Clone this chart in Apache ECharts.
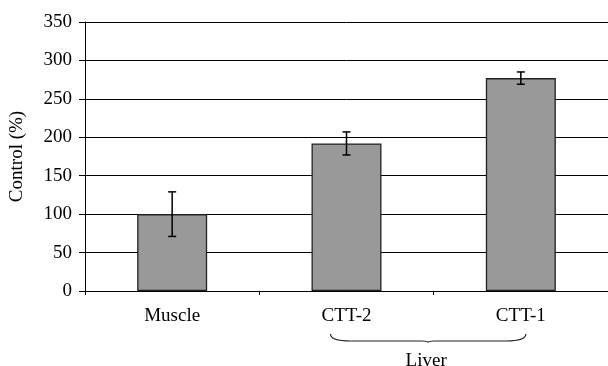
<!DOCTYPE html>
<html>
<head>
<meta charset="utf-8">
<script src="https://cdn.jsdelivr.net/npm/echarts@6/dist/echarts.min.js"></script>
<style>
  html, body { margin: 0; padding: 0; background: #fff; }
  #chart { width: 608px; height: 366px; }
</style>
</head>
<body>
<div id="chart"></div>
<script>
// Relative expression by tissue, percent of control
const categories = ['Muscle', 'CTT-2', 'CTT-1'];
const values = [100, 192, 277];
const errors = [29, 15, 8];
const yTicks = { min: 0, max: 350, interval: 50 };
const groupLabel = 'Liver';
const groupMembers = ['CTT-2', 'CTT-1'];

const font = "'Liberation Serif', 'DejaVu Serif', serif";
const fs = 19;
const chart = echarts.init(document.getElementById('chart'), null, { renderer: 'canvas' });

const errData = values.map((v, i) => [i, v - errors[i], v + errors[i]]);

chart.setOption({
  animation: false,
  textStyle: { fontFamily: font },
  grid: { left: 85, top: 22, width: 524, bottom: 75, containLabel: false },
  xAxis: {
    type: 'category',
    data: categories,
    axisLine: { lineStyle: { color: '#000', width: 1 } },
    axisTick: { show: true, length: 4, lineStyle: { color: '#000' } },
    axisLabel: { color: '#000', fontSize: fs, fontFamily: font, margin: 16 },
    splitLine: { show: false }
  },
  yAxis: {
    type: 'value',
    min: yTicks.min, max: yTicks.max, interval: yTicks.interval,
    name: 'Control (%)',
    nameLocation: 'middle',
    nameGap: 58,
    nameTextStyle: { color: '#000', fontSize: fs, fontFamily: font },
    axisLine: { show: true, lineStyle: { color: '#000', width: 1 } },
    axisTick: { show: true, length: 6, lineStyle: { color: '#000' } },
    axisLabel: { color: '#000', fontSize: fs, fontFamily: font, margin: 13 },
    splitLine: { show: true, lineStyle: { color: '#000', width: 1 } }
  },
  series: [
    {
      type: 'bar',
      data: values,
      barWidth: 70,
      itemStyle: { color: '#999999', borderColor: '#222', borderWidth: 1.3 },
      z: 2
    },
    {
      type: 'custom',
      data: errData,
      z: 3,
      renderItem: function (params, api) {
        const x = api.value(0);
        const lo = api.coord([x, api.value(1)]);
        const hi = api.coord([x, api.value(2)]);
        const cap = 4;
        const style = { stroke: '#000', lineWidth: 1.5 };
        return {
          type: 'group',
          children: [
            { type: 'line', shape: { x1: hi[0], y1: hi[1], x2: lo[0], y2: lo[1] }, style },
            { type: 'line', shape: { x1: hi[0] - cap, y1: hi[1], x2: hi[0] + cap, y2: hi[1] }, style },
            { type: 'line', shape: { x1: lo[0] - cap, y1: lo[1], x2: lo[0] + cap, y2: lo[1] }, style }
          ]
        };
      }
    }
  ]
});

// Brace grouping the two liver samples, with its label
function drawBrace() {
  const a = chart.convertToPixel({ xAxisIndex: 0 }, groupMembers[0]);
  const b = chart.convertToPixel({ xAxisIndex: 0 }, groupMembers[1]);
  const x1 = a - 16, x2 = b + 5;
  const mid = (x1 + x2) / 2;
  const yTop = 334, yBot = 341;
  const st = { fill: null, stroke: '#222', lineWidth: 1.2 };
  chart.setOption({
    graphic: [
      { type: 'bezierCurve', shape: { x1: x1, y1: yTop, cpx1: x1, cpy1: yBot, x2: x1 + 20, y2: yBot }, style: st },
      { type: 'line', shape: { x1: x1 + 20, y1: yBot, x2: mid - 6, y2: yBot }, style: st },
      { type: 'bezierCurve', shape: { x1: mid - 6, y1: yBot, cpx1: mid, cpy1: yBot, x2: mid, y2: yBot + 1.5 }, style: st },
      { type: 'bezierCurve', shape: { x1: mid, y1: yBot + 1.5, cpx1: mid, cpy1: yBot, x2: mid + 6, y2: yBot }, style: st },
      { type: 'line', shape: { x1: mid + 6, y1: yBot, x2: x2 - 20, y2: yBot }, style: st },
      { type: 'bezierCurve', shape: { x1: x2 - 20, y1: yBot, cpx1: x2, cpy1: yBot, x2: x2, y2: yTop }, style: st },
      {
        type: 'text', x: mid - 2, y: 361,
        style: { text: groupLabel, fill: '#000', fontSize: fs, fontFamily: font, align: 'center', verticalAlign: 'middle' }
      }
    ]
  });
}
drawBrace();
</script>
</body>
</html>
